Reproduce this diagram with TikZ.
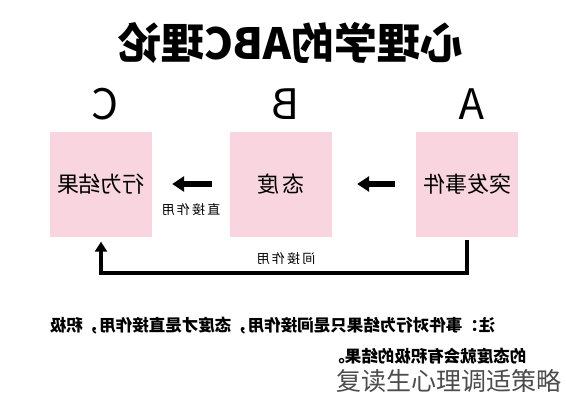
\documentclass[tikz,border=0pt]{standalone}
\usepackage{fontspec}
\newfontfamily\cjk{Noto Sans CJK SC}
\usetikzlibrary{arrows.meta, positioning}
\definecolor{boxpink}{HTML}{F9D6DF}
\tikzset{
    x=1pt, y=-1pt, % one unit is one pixel of the picture, y runs down
    box/.style={fill=boxpink, minimum width=102pt, minimum height=105pt, inner sep=0pt,
        font=\cjk\fontsize{22}{22}\selectfont},
    letter/.style={anchor=base, font=\cjk\fontsize{42}{42}\selectfont},
    small/.style={font=\cjk\fontsize{13}{13}\selectfont},
    note/.style={font=\cjk\bfseries\fontsize{16.5}{16.5}\selectfont, anchor=east},
    direct/.style={line width=6.5pt, -{Triangle[length=12pt,width=15pt]}},
    indirect/.style={line width=4pt, -{Triangle[length=10pt,width=12pt]}},
}
\newcommand{\mirror}[1]{\reflectbox{#1}}

\begin{document}
\begin{tikzpicture}
    \useasboundingbox[fill=white] (0,0) rectangle (566,400);

    % title, printed the wrong way round
    \node[font=\cjk\bfseries\fontsize{43}{43}\selectfont] (title) at (291,43)
        {\mirror{心理学的ABC理论}};

    % letters
    \node[letter] (lc) at (105,119) {\mirror{C}};
    \node[letter] (lb) at (286,119) {\mirror{B}};
    \node[letter] (la) at (472,119) {\mirror{A}};

    % boxes
    \node[box] (c) at (101,184) {\mirror{行为结果}};
    \node[box] (b) at (281,184) {\mirror{态\,度}};
    \node[box] (a) at (467,184) {\mirror{突发事件}};

    \draw[direct, shorten <=21pt, shorten >=25pt] (a.west) -- (b.east);
    \draw[direct, shorten <=18pt, shorten >=20pt] (b.west) -- (c.east);
    \node[small] (dlabel) at (191,210) {\mirror{直\,接\,作\,用}};

    \draw[indirect, shorten <=3pt, shorten >=5pt]
        (a.south) -- ++(0,36) coordinate (turn) -| (c.south);
    \node[small] (ilabel) at (286,259) {\mirror{间\,接\,作\,用}};

    % note
    \node[note] (note1) at (499,326) {\mirror{注：事件对行为结果只是间接作用，态度才是直接作用，积极}};
    \node[note] (note2) at (530,356) {\mirror{的态度就会有积极的结果。}};

    \node[font=\cjk\fontsize{25}{25}\selectfont, text=black!70, anchor=east] (mark) at (565,381)
        {复读生心理调适策略};
\end{tikzpicture}
\end{document}
